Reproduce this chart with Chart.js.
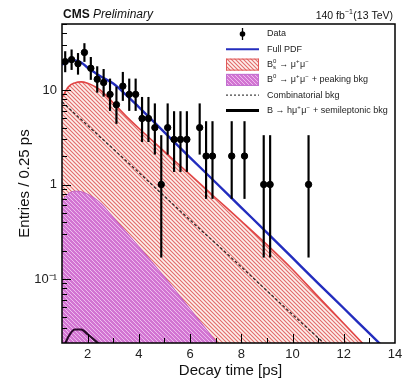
<!DOCTYPE html>
<html>
<head>
<meta charset="utf-8">
<script src="https://cdn.jsdelivr.net/npm/chart.js@4.4.1/dist/chart.umd.min.js"></script>
<style>
html, body { margin:0; padding:0; background:#fff; }
</style>
</head>
<body>
<canvas id="decayChart" width="413" height="382"></canvas>
<script>

// Binned data: bin centres (ps), entries, Poisson errors (low / high). 
var binCentre = [1.125,1.375,1.625,1.875,2.125,2.375,2.625,2.875,3.125,3.375,3.625,3.875,4.125,4.375,4.625,4.875,5.125,5.375,5.625,5.875,6.375,6.625,6.875,7.625,8.125,8.875,9.125,10.625];
var counts    = [20,21,19,25,17,13,12,9,7,11,9,9,5,5,4,1,4,3,3,3,4,2,2,2,2,1,1,1];
var errLow    = [4.44,4.55,4.33,4.97,4.08,3.55,3.41,2.94,2.58,3.26,2.94,2.94,2.16,2.16,1.91,0.83,1.91,1.63,1.63,1.63,1.91,1.29,1.29,1.29,1.29,0.83,0.83,0.83];
var errHigh   = [5.55,5.65,5.44,6.07,5.20,4.70,4.56,4.11,3.77,4.42,4.11,4.11,3.38,3.38,3.16,2.30,3.16,2.92,2.92,2.92,3.16,2.64,2.64,2.64,2.64,2.30,2.30,2.30];

// Fit components at these decay times (ps). 
var curveT        = [1,1.25,1.5,1.75,2,2.25,2.5,3,3.5,4,5,6,7,8,9,10,11,12,13,14];
var fullPdf       = [18.5,20.2,20.6,19.6,17.2,15.5,14.0,11.7,8.9,6.6,3.56,1.93,1.05,0.57,0.31,0.167,0.090,0.049,0.0265,0.0144];
var bsSignal      = [8.3,10.8,11.9,12.2,11.8,11.0,10.0,7.3,5.3,3.94,2.23,1.27,0.72,0.41,0.231,0.126,0.065,0.0338,0.0175,0.009];
var b0Peaking     = [0.68,0.80,0.85,0.84,0.79,0.72,0.64,0.45,0.315,0.22,0.105,0.048,0.022,0.010,0.0045,0.002,0.0009,0.0004,0.0002,0.0001];
var combinatorial = [7.5,6.5,5.6,4.87,4.22,3.66,3.17,2.38,1.78,1.34,0.75,0.42,0.238,0.134,0.075,0.042,0.0238,0.0134,0.0075,0.0042];
var semileptonic  = [0.017,0.0245,0.0292,0.0292,0.026,0.0228,0.0198,0.014,0.0098,0.0068,0.0033,0.0016,0.0008,0.0004,0.0002,0.0001,0.00005,0.00003,0.00002,0.00001];

// Axis ticks. 
var xTickValues = [2,4,6,8,10,12,14];
var yTickValues = [0.1,1,10];
var yTickLabels = ['10\u207B\u00B9','1','10'];

var FONT = "'Liberation Sans', Arial, sans-serif";


/*****/


var canvas = document.getElementById('decayChart');
var ctx = canvas.getContext('2d');

// Diagonal hatch pattern (top-left to bottom-right). 
function makeHatch(bg, fg, size, lw) {
	var c = document.createElement('canvas');
	c.width = size; c.height = size;
	var g = c.getContext('2d');
	g.fillStyle = bg;
	g.fillRect(0, 0, size, size);
	g.strokeStyle = fg;
	g.lineWidth = lw;
	g.beginPath();
	g.moveTo(-1, -1); g.lineTo(size+1, size+1);
	g.moveTo(-1, size-1); g.lineTo(1, size+1);
	g.moveTo(size-1, -1); g.lineTo(size+1, 1);
	g.stroke();
	return ctx.createPattern(c, 'repeat');
}

var redHatch = makeHatch('#fdf0ec', '#e26a6a', 4, 1.1);
var magentaHatch = makeHatch('#d274d2', '#eebcee', 4, 1);

function points(ys) {
	return curveT.map(function(t, i) { return {x:t, y:ys[i]}; });
}

// Draw text with small super/subscripts. 
function drawRich(c, segs, x, y, size, style) {
	style = style || '';
	segs.forEach(function(s) {
		if (s.t) {
			c.font = style + size + 'px ' + FONT;
			c.fillText(s.t, x, y);
			x += c.measureText(s.t).width;
		} else {
			c.font = Math.round(size*0.68) + 'px ' + FONT;
			var w = 0;
			if (s.sup) { c.fillText(s.sup, x, y - size*0.38); w = c.measureText(s.sup).width; }
			if (s.sub) { c.fillText(s.sub, x, y + size*0.32); w = Math.max(w, c.measureText(s.sub).width); }
			x += w + 0.5;
		}
	});
	return x;
}

function richWidth(c, segs, size, style) {
	c.save();
	var w = drawRich({ fillText:function(){}, measureText:function(t){ return c.measureText(t); }, set font(f){ c.font = f; } }, segs, 0, 0, size, style);
	c.restore();
	return w;
}

var legendRows = [
	[{t:'Data'}],
	[{t:'Full PDF'}],
	[{t:'B'},{sup:'0',sub:'s'},{t:' \u2192 \u03BC'},{sup:'+'},{t:'\u03BC'},{sup:'\u2212'}],
	[{t:'B'},{sup:'0'},{t:' \u2192 \u03BC'},{sup:'+'},{t:'\u03BC'},{sup:'\u2212'},{t:' + peaking bkg'}],
	[{t:'Combinatorial bkg'}],
	[{t:'B \u2192 h\u03BC'},{sup:'+'},{t:'\u03BC'},{sup:'\u2212'},{t:' + semileptonic bkg'}]
];

// Frame, inward ticks, titles and legend. 
var decor = {
	id:'decor',
	afterDraw: function(chart) {
		var c = chart.ctx, a = chart.chartArea;
		var xs = chart.scales.x, ys = chart.scales.y;
		c.save();
		c.strokeStyle = '#000';
		c.fillStyle = '#111';

		// Ticks on x axis. 
		c.lineWidth = 1;
		c.beginPath();
		for (var v = 2; v <= 13; v++) {
			var px = Math.round(xs.getPixelForValue(v)) + 0.5;
			var len = (v % 2 === 0) ? 9 : 5;
			c.moveTo(px, a.bottom); c.lineTo(px, a.bottom - len);
		}
		// Ticks on y axis. 
		for (var k = -2; k <= 1; k++) {
			for (var m = 1; m <= 9; m++) {
				var val = m * Math.pow(10, k);
				if (val < ys.min || val > ys.max) continue;
				var py = Math.round(ys.getPixelForValue(val)) + 0.5;
				var l = (m === 1) ? 9 : 5;
				c.moveTo(a.left, py); c.lineTo(a.left + l, py);
			}
		}
		c.stroke();

		// Frame. 
		c.lineWidth = 1.5;
		c.strokeRect(a.left, a.top, a.right - a.left, a.bottom - a.top);

		// Header. 
		c.textBaseline = 'middle';
		c.textAlign = 'left';
		c.font = 'bold 12px ' + FONT;
		c.fillText('CMS', a.left + 1, 15);
		var w = c.measureText('CMS ').width;
		c.font = 'italic 12px ' + FONT;
		c.fillText('Preliminary', a.left + 1 + w, 15);

		var lumi = [{t:'140 fb'},{sup:'\u22121'},{t:'(13 TeV)'}];
		var lw = richWidth(c, lumi, 10.5, '');
		drawRich(c, lumi, a.right - 2 - lw, 16, 10.5, '');

		// Axis titles. 
		c.font = '15px ' + FONT;
		c.textAlign = 'center';
		c.fillText('Decay time [ps]', (a.left + a.right)/2 + 2, 371);
		c.save();
		c.translate(25, (a.top + a.bottom)/2);
		c.rotate(-Math.PI/2);
		c.fillText('Entries / 0.25 ps', 0, 0);
		c.restore();

		// Legend. 
		c.textAlign = 'left';
		var x0 = 226, x1 = 259, tx = 267, y0 = 34, dy = 15.3;
		legendRows.forEach(function(row, i) {
			c.fillStyle = '#222';
			drawRich(c, row, tx, y0 + i*dy, 9, '');
		});
		var yc;
		// Data marker. 
		yc = y0;
		c.strokeStyle = '#000'; c.lineWidth = 1.3;
		c.beginPath(); c.moveTo(242.5, yc - 6); c.lineTo(242.5, yc + 6); c.stroke();
		c.fillStyle = '#000';
		c.beginPath(); c.arc(242.5, yc, 2.8, 0, 2*Math.PI); c.fill();
		// Full PDF. 
		yc = y0 + dy;
		c.strokeStyle = 'rgb(35,45,190)'; c.lineWidth = 2;
		c.beginPath(); c.moveTo(x0, yc); c.lineTo(x1, yc); c.stroke();
		// Bs box. 
		yc = y0 + 2*dy;
		c.fillStyle = redHatch; c.fillRect(x0, yc - 6, x1 - x0, 12);
		c.strokeStyle = '#e05a5a'; c.lineWidth = 1; c.strokeRect(x0 + 0.5, yc - 5.5, x1 - x0 - 1, 11);
		// B0 box. 
		yc = y0 + 3*dy;
		c.fillStyle = magentaHatch; c.fillRect(x0, yc - 6, x1 - x0, 12);
		c.strokeStyle = '#c070d0'; c.lineWidth = 1; c.strokeRect(x0 + 0.5, yc - 5.5, x1 - x0 - 1, 11);
		// Combinatorial. 
		yc = y0 + 4*dy;
		c.strokeStyle = '#444'; c.lineWidth = 1.3; c.setLineDash([2, 2]);
		c.beginPath(); c.moveTo(x0, yc); c.lineTo(x1, yc); c.stroke();
		c.setLineDash([]);
		// Semileptonic. 
		yc = y0 + 5*dy;
		c.strokeStyle = '#000'; c.lineWidth = 3;
		c.beginPath(); c.moveTo(x0, yc); c.lineTo(x1, yc); c.stroke();

		c.restore();
	}
};

var chart = {
	type:'line',
	data:{
		datasets:[
			{
				label:'Data',
				type:'scatter',
				data:binCentre.map(function(t, i) { return {x:t, y:counts[i]}; }),
				backgroundColor:'#000',
				borderColor:'#000',
				pointRadius:3.2,
				pointHoverRadius:3.2,
				showLine:false
			},
			{
				label:'Data errors',
				type:'bar',
				data:binCentre.map(function(t, i) { return {x:t, y:[counts[i] - errLow[i], counts[i] + errHigh[i]]}; }),
				backgroundColor:'#000',
				borderWidth:0,
				barThickness:1.5,
				grouped:false
			},
			{
				label:'Full PDF',
				data:points(fullPdf),
				borderColor:'rgb(35,45,190)',
				borderWidth:2.4,
				pointRadius:0,
				cubicInterpolationMode:'monotone',
				fill:false
			},
			{
				label:'Semileptonic bkg',
				data:points(semileptonic),
				borderColor:'#2a0a2a',
				borderWidth:2.2,
				pointRadius:0,
				cubicInterpolationMode:'monotone',
				fill:false
			},
			{
				label:'Combinatorial bkg',
				data:points(combinatorial),
				borderColor:'#3a2b2b',
				borderWidth:1.3,
				borderDash:[3, 2],
				pointRadius:0,
				cubicInterpolationMode:'monotone',
				fill:false
			},
			{
				label:'B0 + peaking bkg',
				data:points(b0Peaking),
				borderColor:'#c060c8',
				borderWidth:1,
				backgroundColor:magentaHatch,
				pointRadius:0,
				cubicInterpolationMode:'monotone',
				fill:'start'
			},
			{
				label:'Bs signal',
				data:points(bsSignal),
				borderColor:'rgb(225,70,70)',
				borderWidth:1.6,
				backgroundColor:redHatch,
				pointRadius:0,
				cubicInterpolationMode:'monotone',
				fill:'start'
			}
		]
	},
	options:{
		responsive:false,
		animation:false,
		layout:{ padding:{ left:0, right:18, top:24, bottom:0 } },
		plugins:{ legend:{ display:false }, tooltip:{ enabled:false } },
		scales:{
			x:{
				type:'linear', min:1, max:14, offset:false,
				grid:{ display:false, drawTicks:false },
				border:{ display:false },
				ticks:{ font:{ family:FONT, size:13 }, color:'#222', padding:4, maxRotation:0, autoSkip:false },
				afterBuildTicks:function(s) { s.ticks = xTickValues.map(function(v) { return {value:v}; }); },
				afterFit:function(s) { s.height = 39; }
			},
			y:{
				type:'logarithmic', min:0.021, max:50,
				grid:{ display:false, drawTicks:false },
				border:{ display:false },
				ticks:{
					font:{ family:FONT, size:13 }, color:'#222', padding:5, autoSkip:false,
					callback:function(v, i) { return yTickLabels[i]; }
				},
				afterBuildTicks:function(s) { s.ticks = yTickValues.map(function(v) { return {value:v}; }); },
				afterFit:function(s) { s.width = 62; }
			}
		}
	},
	plugins:[decor]
};

var decayChart = new Chart(ctx, chart);

</script>
</body>
</html>
